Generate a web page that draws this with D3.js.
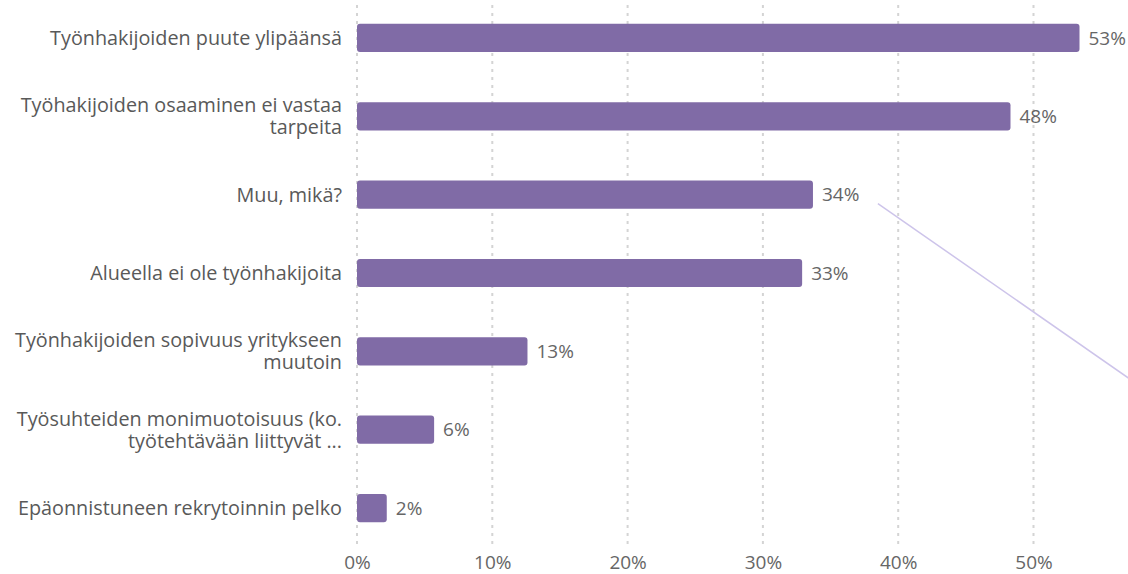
<!DOCTYPE html>
<html>
<head>
<meta charset="utf-8">
<script src="https://cdn.jsdelivr.net/npm/d3@7"></script>
<style>
  body { margin: 0; background: #fff; }
  svg { display: block; font-family: "Open Sans", sans-serif; }
</style>
</head>
<body>
<svg width="1128" height="574"></svg>
<script>
// vastausvaihtoehdot (rivinvaihdot kuten kuvassa)
var categories = [
  "Työnhakijoiden puute ylipäänsä",
  "Työhakijoiden osaaminen ei vastaa\ntarpeita",
  "Muu, mikä?",
  "Alueella ei ole työnhakijoita",
  "Työnhakijoiden sopivuus yritykseen\nmuutoin",
  "Työsuhteiden monimuotoisuus (ko.\ntyötehtävään liittyvät ...",
  "Epäonnistuneen rekrytoinnin pelko"
];
// osuudet (%)
var values = [53.4, 48.3, 33.7, 32.9, 12.6, 5.7, 2.2];
var tickValues = [0, 10, 20, 30, 40, 50];

var svg = d3.select("svg");

var x = d3.scaleLinear()
    .domain([0, 60])
    .range([357, 357 + 60 * 13.53]);

var y = d3.scaleBand()
    .domain(categories)
    .range([-1.2, 547.2])
    .paddingInner(0.64)
    .paddingOuter(0.32);

// pisteviivaruudukko
svg.append("g")
  .selectAll("line")
  .data(tickValues)
  .enter().append("line")
    .attr("x1", d => x(d)).attr("x2", d => x(d))
    .attr("y1", 5).attr("y2", 549)
    .attr("stroke", "#d4d4d4")
    .attr("stroke-width", 2)
    .attr("stroke-dasharray", "3,5");

// x-akseli
var xAxis = svg.append("g")
    .attr("transform", "translate(0,562)")
    .call(d3.axisBottom(x).tickValues(tickValues).tickFormat(d => d + "%").tickSize(0).tickPadding(0));
xAxis.select(".domain").remove();
xAxis.selectAll("text")
    .attr("dy", "0.35em")
    .attr("fill", "#666")
    .style("font-size", "19px")
    .style("font-family", "Open Sans, sans-serif");

// palkit
svg.append("g")
  .selectAll("rect")
  .data(values)
  .enter().append("rect")
    .attr("x", x(0))
    .attr("y", (d, i) => y(categories[i]))
    .attr("width", d => x(d) - x(0))
    .attr("height", y.bandwidth())
    .attr("rx", 3)
    .attr("fill", "#806ba6");

// arvot
svg.append("g")
  .selectAll("text")
  .data(values)
  .enter().append("text")
    .attr("x", d => x(d) + 9)
    .attr("y", (d, i) => y(categories[i]) + y.bandwidth() / 2)
    .attr("dy", "0.35em")
    .attr("fill", "#666")
    .style("font-size", "19px")
    .text(d => Math.round(d) + "%");

// kategoriat
var labels = svg.append("g")
  .selectAll("text")
  .data(categories)
  .enter().append("text")
    .attr("text-anchor", "end")
    .attr("fill", "#595959")
    .style("font-size", "19.8px")
    .attr("transform", d => "translate(342," + (y(d) + y.bandwidth() / 2) + ")");

labels.each(function(d) {
  var lines = d.split("\n");
  var lh = 22;
  var t = d3.select(this);
  lines.forEach(function(line, i) {
    t.append("tspan")
      .attr("x", 0)
      .attr("y", (i - (lines.length - 1) / 2) * lh)
      .attr("dy", "0.35em")
      .text(line);
  });
});

// haalea yhdysviiva (kuvassa näkyvä)
svg.append("line")
    .attr("x1", x(38.5))
    .attr("y1", y("Muu, mikä?") + y.bandwidth() / 2 + 9)
    .attr("x2", x(57.5))
    .attr("y2", y("Muu, mikä?") + y.bandwidth() / 2 + 9 + (x(57.5) - x(38.5)) * 0.696)
    .attr("stroke", "#cdc4ea")
    .attr("stroke-width", 1.5);
</script>
</body>
</html>
